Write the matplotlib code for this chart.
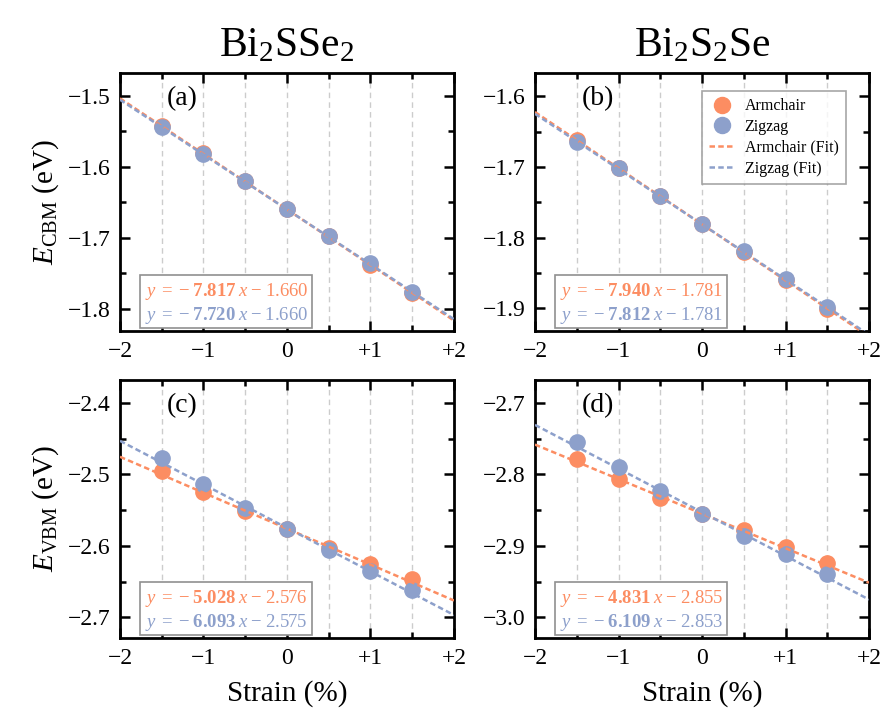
import numpy as np
import matplotlib
matplotlib.use('Agg')
import matplotlib.pyplot as plt
from matplotlib.ticker import MultipleLocator, FuncFormatter

plt.rcParams['font.family'] = ['Liberation Serif', 'DejaVu Serif']
plt.rcParams['mathtext.fontset'] = 'custom'
plt.rcParams['mathtext.rm'] = 'Liberation Serif'
plt.rcParams['mathtext.it'] = 'Liberation Serif:italic'
plt.rcParams['mathtext.bf'] = 'Liberation Serif:bold'

# strain (%)
strain = [-1.5, -1.0, -0.5, 0.0, 0.5, 1.0, 1.5]

# Bi2SSe2 CBM / VBM
cbm1_arm = [-1.542, -1.581, -1.620, -1.659, -1.698, -1.738, -1.777]
cbm1_zig = [-1.544, -1.582, -1.620, -1.659, -1.697, -1.736, -1.776]
vbm1_arm = [-2.496, -2.525, -2.551, -2.577, -2.603, -2.625, -2.647]
vbm1_zig = [-2.477, -2.513, -2.547, -2.577, -2.606, -2.635, -2.662]

# Bi2S2Se CBM / VBM
cbm2_arm = [-1.662, -1.701, -1.741, -1.780, -1.820, -1.860, -1.901]
cbm2_zig = [-1.664, -1.702, -1.741, -1.780, -1.819, -1.859, -1.898]
vbm2_arm = [-2.778, -2.806, -2.833, -2.856, -2.878, -2.902, -2.924]
vbm2_zig = [-2.755, -2.790, -2.823, -2.856, -2.886, -2.912, -2.939]

# linear fits  y = k * strain(fraction) + b
fit_k = {'a': (-7.817, -7.720), 'b': (-7.940, -7.812),
         'c': (-5.028, -6.093), 'd': (-4.831, -6.109)}
fit_b = {'a': (-1.660, -1.660), 'b': (-1.781, -1.781),
         'c': (-2.576, -2.575), 'd': (-2.855, -2.853)}

titles = ['Bi$_2$SSe$_2$', 'Bi$_2$S$_2$Se']
ylims = {'a': (-1.831, -1.468), 'b': (-1.932, -1.567),
         'c': (-2.729, -2.368), 'd': (-3.029, -2.668)}
yticks = {'a': [-1.5, -1.6, -1.7, -1.8], 'b': [-1.6, -1.7, -1.8, -1.9],
          'c': [-2.4, -2.5, -2.6, -2.7], 'd': [-2.7, -2.8, -2.9, -3.0]}

c_arm = '#fc8d62'
c_zig = '#8da0cb'

fig = plt.figure(figsize=(8.87, 7.25), dpi=100)
W, H = 887., 725.
boxes = {'a': (120, 73), 'b': (535, 73), 'c': (120, 380), 'd': (535, 380)}
data = {'a': (cbm1_arm, cbm1_zig), 'b': (cbm2_arm, cbm2_zig),
        'c': (vbm1_arm, vbm1_zig), 'd': (vbm2_arm, vbm2_zig)}

def fmt_x(v, pos):
    if abs(v) < 1e-9:
        return '0'
    if v > 0:
        return '+%d' % v
    return '\u2212%d' % abs(v)

def fmt_y(v, pos):
    return ('%.1f' % v).replace('-', '\u2212')

def eq_str(k, b):
    return (r'$\mathit{y}\;=\;{-}\;\mathbf{%.3f}\;\mathit{x}\;{-}\;%.3f$' % (abs(k), abs(b)))

axes = {}
for key, (x0, y0) in boxes.items():
    ax = fig.add_axes([x0 / W, 1 - (y0 + 258) / H, 334 / W, 258 / H])
    axes[key] = ax
    arm, zig = data[key]
    ax.set_xlim(-2, 2)
    ax.set_ylim(*ylims[key])
    for gx in np.arange(-1.5, 1.51, 0.5):
        ax.axvline(gx, color='#cccccc', lw=1, ls=(0, (4, 3)), zorder=0)
    xs = np.linspace(-2, 2, 50)
    ka, kz = fit_k[key]
    ba, bz = fit_b[key]
    ax.plot(strain, arm, 'o', color=c_arm, ms=11, label='Armchair', zorder=3)
    ax.plot(strain, zig, 'o', color=c_zig, ms=11, label='Zigzag', zorder=3)
    ax.plot(xs, ka * xs / 100 + ba, ls=(0, (2.2, 1.3)), color=c_arm, lw=1.8,
            label='Armchair (Fit)', zorder=4)
    ax.plot(xs, kz * xs / 100 + bz, ls=(0, (2.2, 1.3)), color=c_zig, lw=1.8,
            label='Zigzag (Fit)', zorder=4)

    ax.xaxis.set_major_locator(MultipleLocator(1))
    ax.xaxis.set_minor_locator(MultipleLocator(0.5))
    ax.set_yticks(yticks[key])
    ax.yaxis.set_minor_locator(MultipleLocator(0.05))
    ax.xaxis.set_major_formatter(FuncFormatter(fmt_x))
    ax.yaxis.set_major_formatter(FuncFormatter(fmt_y))
    ax.tick_params(which='both', direction='in', top=True, right=True,
                   labelsize=17, width=1.8)
    ax.tick_params(which='major', length=7, pad=7)
    ax.tick_params(which='minor', length=4)
    for s in ax.spines.values():
        s.set_linewidth(2)

    ax.text(0.14, 0.9, '(%s)' % key, transform=ax.transAxes, fontsize=20,
            va='center', ha='left')

    t1 = eq_str(ka, ba)
    t2 = eq_str(kz, bz)
    ax.text(0.075, 0.155, t1, transform=ax.transAxes, fontsize=13.5,
            color=c_arm, va='center', ha='left', zorder=6)
    ax.text(0.075, 0.06, t2, transform=ax.transAxes, fontsize=13.5,
            color=c_zig, va='center', ha='left', zorder=6)
    ax.add_patch(plt.Rectangle((0.06, 0.012), 0.515, 0.205, transform=ax.transAxes,
                               facecolor='white', edgecolor='#909090', lw=1.2,
                               zorder=5))

axes['a'].set_title(titles[0], fontsize=30, pad=12)
axes['b'].set_title(titles[1], fontsize=30, pad=12)
axes['a'].set_ylabel(r'$\mathit{E}_{\mathrm{CBM}}$ (eV)', fontsize=21, labelpad=5)
axes['c'].set_ylabel(r'$\mathit{E}_{\mathrm{VBM}}$ (eV)', fontsize=21, labelpad=5)
axes['c'].set_xlabel('Strain (%)', fontsize=21, labelpad=8)
axes['d'].set_xlabel('Strain (%)', fontsize=21, labelpad=8)

leg = axes['b'].legend(loc='upper right', bbox_to_anchor=(0.93, 0.93),
                       fontsize=11.5, frameon=True, fancybox=False,
                       handlelength=1.6, handletextpad=0.6, borderpad=0.45,
                       labelspacing=0.3, borderaxespad=0, markerscale=1.05)
leg.get_frame().set_edgecolor('#909090')
leg.get_frame().set_linewidth(1.2)

fig.savefig('out.png', dpi=100)
